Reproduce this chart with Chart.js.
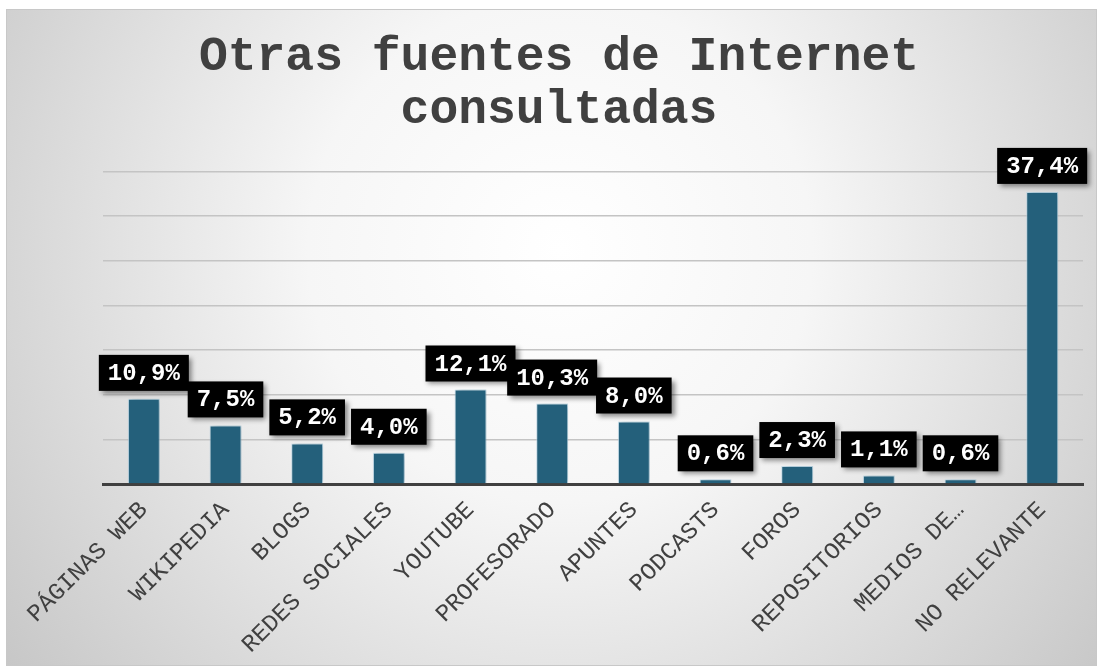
<!DOCTYPE html>
<html>
<head>
<meta charset="utf-8">
<script src="https://cdn.jsdelivr.net/npm/chart.js@4.4.1/dist/chart.umd.min.js"></script>
<style>
    html, body { margin: 0; padding: 0; background: #fff; }
    #wrap { width: 1101px; height: 669px; }
</style>
</head>
<body>
<div id="wrap"><canvas id="chart" width="1101" height="669"></canvas></div>
<script>
const categories = ['PÁGINAS WEB', 'WIKIPEDIA', 'BLOGS', 'REDES SOCIALES', 'YOUTUBE', 'PROFESORADO',
    'APUNTES', 'PODCASTS', 'FOROS', 'REPOSITORIOS', 'MEDIOS DE…', 'NO RELEVANTE'];
const values = [10.9, 7.5, 5.2, 4.0, 12.1, 10.3, 8.0, 0.6, 2.3, 1.1, 0.6, 37.4];
const titleLines = ['Otras fuentes de Internet', 'consultadas'];

const MONO = '"Liberation Mono", "DejaVu Sans Mono", monospace';

// Background panel with radial gradient
const backgroundPlugin = {
    id: 'panelBackground',
    beforeDraw(chart) {
        const ctx = chart.ctx;
        ctx.save();
        ctx.fillStyle = '#ffffff';
        ctx.fillRect(0, 0, chart.width, chart.height);
        const grad = ctx.createRadialGradient(560, 250, 0, 560, 250, 720);
        grad.addColorStop(0, '#ffffff');
        grad.addColorStop(0.35, '#f6f6f6');
        grad.addColorStop(1, '#c4c4c4');
        ctx.fillStyle = grad;
        ctx.fillRect(6, 9, 1091, 657);
        ctx.strokeStyle = '#c8c8c8';
        ctx.lineWidth = 1;
        ctx.strokeRect(6.5, 9.5, 1090, 656);
        ctx.restore();
    }
};

// Soft shadow behind the bars
const barShadowPlugin = {
    id: 'barShadow',
    beforeDatasetsDraw(chart) {
        const ctx = chart.ctx;
        ctx.save();
        ctx.shadowColor = 'rgba(30, 80, 110, 0.35)';
        ctx.shadowBlur = 6;
        ctx.shadowOffsetX = 3;
        ctx.shadowOffsetY = 0;
    },
    afterDatasetsDraw(chart) {
        chart.ctx.restore();
    }
};

// Black value boxes above each bar
const valueLabelPlugin = {
    id: 'valueLabels',
    afterDatasetsDraw(chart) {
        const ctx = chart.ctx;
        const meta = chart.getDatasetMeta(0);
        ctx.save();
        ctx.font = 'bold 24px ' + MONO;
        ctx.textAlign = 'center';
        ctx.textBaseline = 'middle';
        meta.data.forEach((bar, i) => {
            const text = values[i].toFixed(1).replace('.', ',') + '%';
            const w = ctx.measureText(text).width + 18;
            const h = 36;
            const x = bar.x - w / 2;
            const y = bar.y - 8 - h;
            ctx.save();
            ctx.shadowColor = 'rgba(0, 0, 0, 0.45)';
            ctx.shadowBlur = 5;
            ctx.shadowOffsetX = 3;
            ctx.shadowOffsetY = 3;
            ctx.fillStyle = '#000000';
            ctx.fillRect(x, y, w, h);
            ctx.restore();
            ctx.fillStyle = '#ffffff';
            ctx.fillText(text, bar.x, y + h / 2 + 1);
        });
        ctx.restore();
    }
};

const ctx = document.getElementById('chart').getContext('2d');
new Chart(ctx, {
    type: 'bar',
    data: {
        labels: categories,
        datasets: [{
            data: values,
            backgroundColor: '#24607b',
            borderColor: 'rgba(190, 220, 235, 0.7)',
            borderWidth: 1,
            barPercentage: 0.78,
            categoryPercentage: 0.5
        }]
    },
    options: {
        responsive: false,
        animation: false,
        layout: { padding: { left: 35, right: 18, top: 20, bottom: 0 } },
        plugins: {
            legend: { display: false },
            tooltip: { enabled: false },
            title: {
                display: true,
                text: titleLines,
                color: '#404040',
                font: { family: MONO, size: 48, weight: 'bold', lineHeight: 1.1 },
                padding: { top: 12, bottom: 34 }
            }
        },
        scales: {
            x: {
                grid: { display: false },
                border: { display: true, color: '#404040', width: 3 },
                ticks: {
                    color: '#404040',
                    font: { family: MONO, size: 24 },
                    autoSkip: false,
                    minRotation: 45,
                    maxRotation: 45,
                    padding: 4
                },
                afterFit(scale) { scale.height = 185; }
            },
            y: {
                min: 0,
                max: 40,
                grid: { color: '#c4c4c4', lineWidth: 1.5, drawTicks: false },
                border: { display: false },
                ticks: { display: false, count: 8 },
                afterFit(scale) { scale.width = 68; }
            }
        }
    },
    plugins: [backgroundPlugin, barShadowPlugin, valueLabelPlugin]
});
</script>
</body>
</html>
